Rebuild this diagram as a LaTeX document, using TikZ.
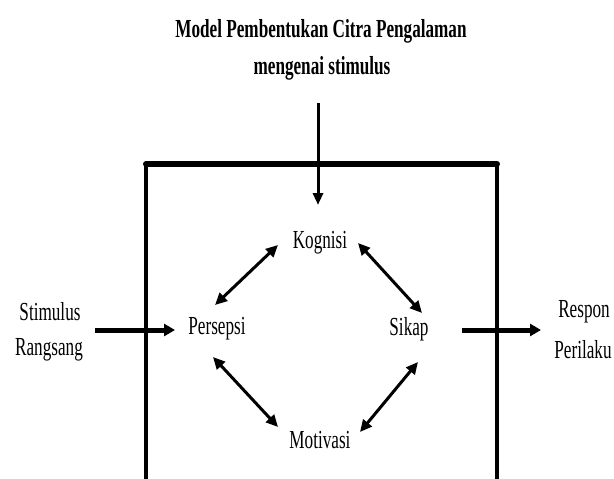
\documentclass[tikz,border=0pt]{standalone}
\usepackage{fontspec}
\setmainfont{Liberation Serif}[FakeStretch=0.66]
\usetikzlibrary{arrows.meta,calc}
\tikzset{
  lbl/.style={inner sep=0pt, font=\fontsize{26}{30}\selectfont},
  ttl/.style={inner sep=0pt, font=\fontsize{26}{30}\selectfont\bfseries},
  dbl/.style={line width=3pt, {Triangle[length=12pt,width=11pt]}-{Triangle[length=12pt,width=11pt]}},
  one/.style={line width=3pt, -{Triangle[length=12pt,width=10pt]}},
  hor/.style={line width=5pt, -{Triangle[length=11pt,width=12pt]}},
}
\begin{document}
\begin{tikzpicture}[x=1pt,y=-1pt]
\useasboundingbox[fill=white] (0,0) rectangle (614,479);
\clip (0,0) rectangle (614,479);
% box
\draw[line width=3.5pt] (146,490) -- (146,166);
\draw[line width=3.5pt] (497,490) -- (497,166);
\draw[line width=6pt, line cap=round] (146,164) -- (497,164);
% texts
\node[ttl] (t1) at (321,31) {Model Pembentukan Citra Pengalaman};
\node[ttl] (t2) at (322,68) {mengenai stimulus};
\node[lbl] (K) at (320,243) {Kognisi};
\node[lbl] (P) at (217,329) {Persepsi};
\node[lbl] (S) at (409,329) {Sikap};
\node[lbl] (M) at (320,440) {Motivasi};
\node[lbl] (st) at (50,312) {Stimulus};
\node[lbl] (rg) at (49,350) {Rangsang};
\node[lbl] (rs) at (584,312) {Respon};
\node[lbl] (pr) at (583,350) {Perilaku};
% connectors
\coordinate (vtop) at (318,103);
\coordinate (lin) at (95,330);
\coordinate (rout) at (541,330);
\draw[one] (vtop) -- ($(K)+(-2,-38)$);
\draw[hor] (lin) -- ($(P)+(-42,1)$);
\draw[hor] ($(S)+(53,1)$) -- (rout);
\draw[dbl] ($(K)+(-42,2)$) -- ($(P)+(-2,-24)$);
\draw[dbl] ($(K)+(38,0)$) -- ($(S)+(13,-16)$);
\draw[dbl] ($(P)+(-4,28)$) -- ($(M)+(-42,-13)$);
\draw[dbl] ($(S)+(9,33)$) -- ($(M)+(40,-8)$);
\end{tikzpicture}
\end{document}
